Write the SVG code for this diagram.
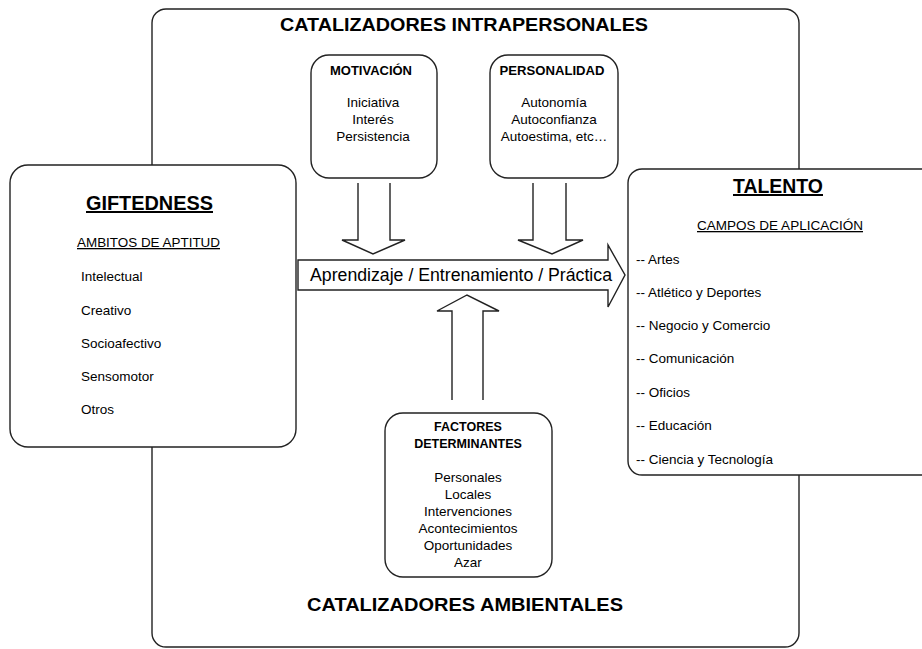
<svg xmlns="http://www.w3.org/2000/svg" width="922" height="649" viewBox="0 0 922 649">
<style>
.box{fill:#fff;stroke:#222;stroke-width:1.4}
.arr{fill:#fff;stroke:#222;stroke-width:1.4;stroke-linejoin:miter}
text{font-family:"Liberation Sans",Arial,sans-serif;fill:#000}
.t{font-size:18px;font-weight:bold}
.h{font-size:20px;font-weight:bold;text-decoration:underline}
.s{font-size:13px;text-decoration:underline}
.b{font-size:12.5px;font-weight:bold}
.i{font-size:13.5px}
.c{text-anchor:middle}
</style>
<rect width="922" height="649" fill="#fff"/>
<g id="catalizadores">
<rect class="box" x="152" y="9" width="647" height="638" rx="14"/>
<text class="t c" x="464" y="31" textLength="368" lengthAdjust="spacingAndGlyphs">CATALIZADORES INTRAPERSONALES</text>
<text class="t c" x="465" y="611" textLength="316" lengthAdjust="spacingAndGlyphs">CATALIZADORES AMBIENTALES</text>
</g>
<g id="connectors">
<path class="arr" d="M358,183 V240 H342 L373,254 L405,240 H390 V183"/>
<path class="arr" d="M533,183 V240 H518 L552,254 L583,240 H566 V183"/>
<path class="arr" d="M452,400 V311 H437 L467,295 L499,311 H483 V400"/>
<path class="arr" d="M298,260 H608 V245 L625,275 L608,307 V290 H298 Z"/>
<text class="c" x="461" y="281" font-size="17.5" textLength="302" lengthAdjust="spacingAndGlyphs">Aprendizaje / Entrenamiento / Práctica</text>
</g>
<g id="giftedness">
<rect class="box" x="10" y="165" width="286" height="282" rx="18"/>
<text class="h c" x="149.5" y="210" textLength="127" lengthAdjust="spacingAndGlyphs">GIFTEDNESS</text>
<text class="s c" x="148.5" y="247" textLength="143" lengthAdjust="spacingAndGlyphs">AMBITOS DE APTITUD</text>
<text class="i" x="81" y="281">Intelectual</text>
<text class="i" x="81" y="315">Creativo</text>
<text class="i" x="81" y="348">Socioafectivo</text>
<text class="i" x="81" y="381">Sensomotor</text>
<text class="i" x="81" y="414">Otros</text>
</g>
<g id="talento">
<rect class="box" x="628" y="169" width="320" height="306" rx="14"/>
<text class="h c" x="778" y="193" textLength="90" lengthAdjust="spacingAndGlyphs">TALENTO</text>
<text class="s c" x="780" y="230" textLength="166" lengthAdjust="spacingAndGlyphs">CAMPOS DE APLICACIÓN</text>
<text class="i" x="636" y="264">-- Artes</text>
<text class="i" x="636" y="297">-- Atlético y Deportes</text>
<text class="i" x="636" y="330">-- Negocio y Comercio</text>
<text class="i" x="636" y="363">-- Comunicación</text>
<text class="i" x="636" y="397">-- Oficios</text>
<text class="i" x="636" y="430">-- Educación</text>
<text class="i" x="636" y="464">-- Ciencia y Tecnología</text>
</g>
<g id="motivacion">
<rect class="box" x="311" y="55" width="126" height="123" rx="18"/>
<text class="b c" x="371" y="75" textLength="82" lengthAdjust="spacingAndGlyphs">MOTIVACIÓN</text>
<text class="i c" x="373" y="107">Iniciativa</text>
<text class="i c" x="373" y="124">Interés</text>
<text class="i c" x="373" y="141">Persistencia</text>
</g>
<g id="personalidad">
<rect class="box" x="490" y="55" width="128" height="123" rx="18"/>
<text class="b c" x="552" y="75" textLength="105" lengthAdjust="spacingAndGlyphs">PERSONALIDAD</text>
<text class="i c" x="554" y="107">Autonomía</text>
<text class="i c" x="554" y="124">Autoconfianza</text>
<text class="i c" x="554" y="141">Autoestima, etc…</text>
</g>
<g id="factores">
<rect class="box" x="385" y="413" width="167" height="164" rx="18"/>
<text class="b c" x="468" y="431">FACTORES</text>
<text class="b c" x="468" y="448">DETERMINANTES</text>
<text class="i c" x="468" y="482">Personales</text>
<text class="i c" x="468" y="499">Locales</text>
<text class="i c" x="468" y="516">Intervenciones</text>
<text class="i c" x="468" y="533">Acontecimientos</text>
<text class="i c" x="468" y="550">Oportunidades</text>
<text class="i c" x="468" y="567">Azar</text>
</g>
</svg>
